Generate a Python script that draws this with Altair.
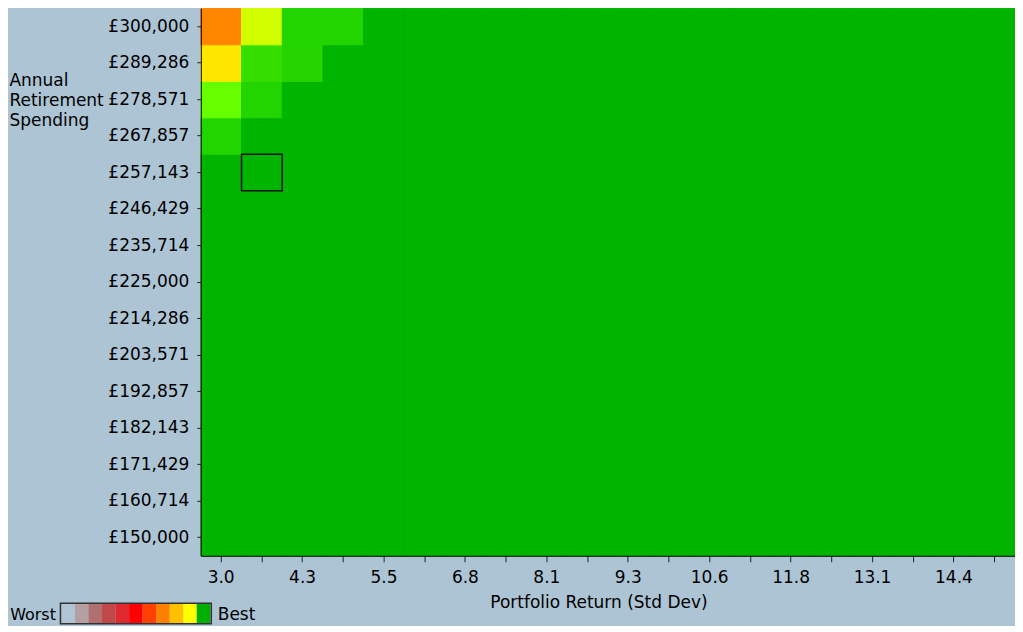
import json
import altair as alt
import pandas as pd

# ---- data -------------------------------------------------------------
returns = ["3.0", "3.6", "4.3", "4.9", "5.5", "6.2", "6.8", "7.4", "8.1", "8.7",
           "9.3", "9.9", "10.6", "11.2", "11.8", "12.5", "13.1", "13.7", "14.4", "15.0"]
spending = [150000, 160714, 171429, 182143, 192857, 203571, 214286, 225000,
            235714, 246429, 257143, 267857, 278571, 289286, 300000]

# success score (0 = worst, 100 = best) for the cells that are not "best";
# every other cell is 100
score_300000 = [71, 91.8, 98, 98]
score_289286 = [86.3, 97.3, 97.9]
score_278571 = [95, 98]
score_267857 = [98]

selected_return = "3.6"
selected_spending = 257143

legend_levels = list(range(11))
legend_colors = ["#AFC5D5", "#B4A0A0", "#B07070", "#C04848", "#E02830", "#FF0000",
                 "#FF4000", "#FF8000", "#FFC000", "#FFFF00", "#00B000"]

# colour ramp of the score
score_stops = [0, 10, 20, 30, 40, 50, 60, 70, 80, 90, 95, 98, 100]
score_colors = ["#AFC5D5", "#B4A0A0", "#B07070", "#C04848", "#E02830", "#FF0000",
                "#FF4000", "#FF8000", "#FFC000", "#FFFF00", "#66FF00", "#22D400", "#00B400"]

special = {300000: score_300000, 289286: score_289286,
           278571: score_278571, 267857: score_267857}

rows = []
for s in spending:
    vals = special.get(s, [])
    for i, r in enumerate(returns):
        rows.append({"ret": r, "spend": s, "score": vals[i] if i < len(vals) else 100})
df = pd.DataFrame(rows)

BG = "#ADC4D4"
FONT = "DejaVu Sans"
FS = 17

x_enc = alt.X("ret:O", sort=returns,
              scale=alt.Scale(paddingInner=0, paddingOuter=0),
              axis=alt.Axis(
                  title="Portfolio Return (Std Dev)",
                  labelExpr="indexof(%s, datum.value) %% 2 == 0 ? datum.value : ''" % json.dumps(returns),
                  labelAngle=0, labelFontSize=FS, labelColor="black", labelFont=FONT,
                  labelPadding=8, tickSize=6, tickColor="#222", domainColor="black",
                  titleFontSize=FS, titleFontWeight="normal", titleColor="black", titleFont=FONT,
                  titleX=398, titleY=52, titleBaseline="alphabetic", titleAlign="center"))
y_enc = alt.Y("spend:O", sort="descending",
              scale=alt.Scale(paddingInner=0, paddingOuter=0),
              axis=alt.Axis(
                  title=["Annual", "Retirement", "Spending"],
                  labelExpr="'£' + format(datum.value, ',')",
                  labelFontSize=FS, labelColor="black", labelFont=FONT,
                  labelPadding=8, tickSize=4, tickColor="#222", domainColor="black",
                  titleFontSize=FS, titleFontWeight="normal", titleColor="black", titleFont=FONT,
                  titleAngle=0, titleAlign="left", titleBaseline="top",
                  titleX=-192, titleY=64, titleLineHeight=20))

score_scale = alt.Scale(domain=score_stops, range=score_colors)
heat = alt.Chart(df).mark_rect(strokeWidth=1).encode(
    x=x_enc, y=y_enc,
    color=alt.Color("score:Q", scale=score_scale, legend=None),
    stroke=alt.Stroke("score:Q", scale=score_scale, legend=None),
)

sel = alt.Chart(pd.DataFrame({"ret": [selected_return], "spend": [selected_spending]})).mark_rect(
    filled=False, stroke="#111", strokeWidth=1.5
).encode(x=alt.X("ret:O", sort=returns), y=alt.Y("spend:O", sort="descending"))

grid = alt.layer(heat, sel)

legend_df = pd.DataFrame({"lvl": legend_levels})
swatches = alt.Chart(legend_df).mark_rect().encode(
    x=alt.X("lvl:O", scale=alt.Scale(range=[-139.5, 9.5], paddingInner=0, paddingOuter=0), axis=None),
    y=alt.value(596), y2=alt.value(615.5),
    color=alt.Color("lvl:O", scale=alt.Scale(domain=legend_levels, range=legend_colors), legend=None),
)

one = pd.DataFrame({"a": [0]})
box = alt.Chart(one).mark_rect(filled=False, stroke="#333", strokeWidth=1.5).encode(
    x=alt.value(-140.5), x2=alt.value(10.5), y=alt.value(595.5), y2=alt.value(616)
)
worst = alt.Chart(one).mark_text(text="Worst", align="right", baseline="alphabetic",
                                 fontSize=16, font=FONT, color="black").encode(
    x=alt.value(-145), y=alt.value(612))
best = alt.Chart(one).mark_text(text="Best", align="left", baseline="alphabetic",
                                fontSize=FS, font=FONT, color="black").encode(
    x=alt.value(17), y=alt.value(612))

chart = alt.layer(grid, swatches, box, worst, best).resolve_scale(
    x="independent", color="independent"
).properties(
    width=815, height=548,
    background=BG,
    padding={"left": 193, "top": 0, "right": 0, "bottom": 70},
    autosize=alt.AutoSizeParams(type="none"),
).configure_view(stroke=None)

chart.save("out.html", embed_options={"renderer": "svg", "actions": False})
